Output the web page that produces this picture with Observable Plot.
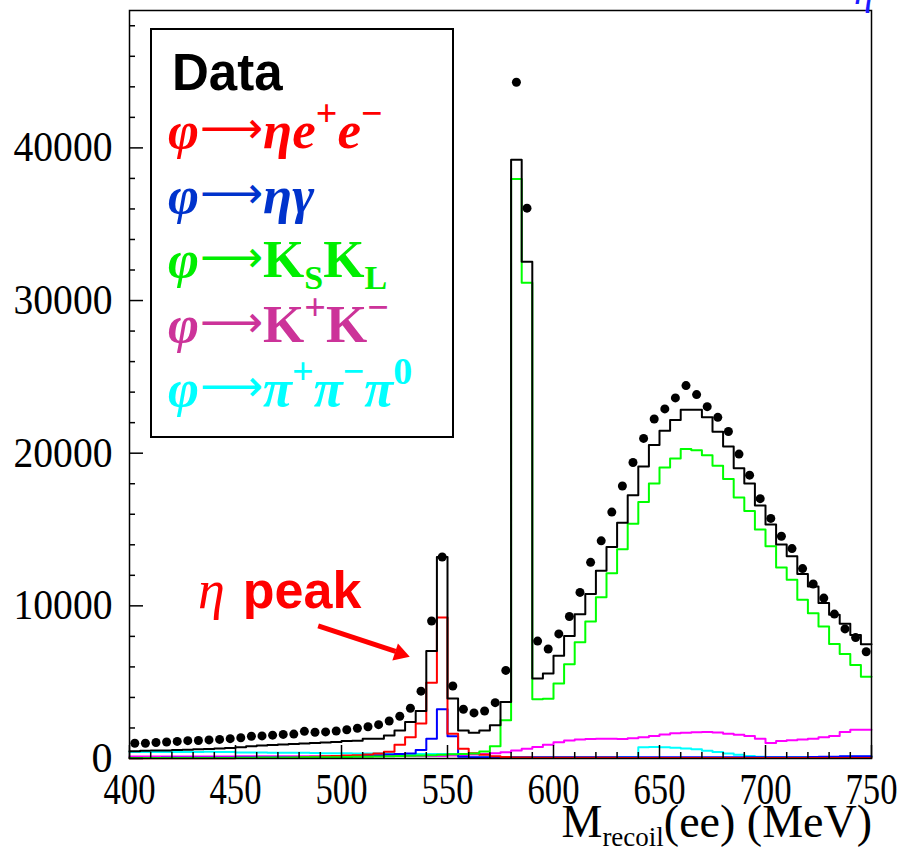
<!DOCTYPE html>
<html><head><meta charset="utf-8">
<script src="https://cdn.jsdelivr.net/npm/d3@7"></script>
<script src="https://cdn.jsdelivr.net/npm/@observablehq/plot@0.6"></script>
<style>
body{margin:0;background:#fff;}
#chart{position:relative;width:912px;height:850px;overflow:hidden;}
</style>
</head><body><div id="chart"></div>
<script>
// ---- data (70 bins of 5 MeV from 400 to 750) ----
const binStart = 400, binWidth = 5, binEnd = 750;
const dataCounts = [1000,1000,1050,1080,1120,1170,1180,1220,1250,1300,
  1360,1460,1480,1530,1580,1600,1780,1720,1740,1800,
  1880,1980,2080,2215,2455,2765,3290,4410,9010,13200,
  4750,3225,2985,3115,3660,5770,44300,36050,7690,7170,
  8160,9300,10880,12850,14260,16140,17850,19390,20970,22240,
  22900,23620,24430,23840,23050,22350,21420,19940,18560,17020,
  15730,14560,13750,12440,11430,10510,9460,8490,7920,6990];
const totalMC = [480,500,520,530,560,580,600,620,660,690,
  740,800,850,880,920,950,980,1020,1050,1080,
  1150,1170,1300,1300,1510,1840,2390,3115,7040,13200,
  3930,1840,1690,1840,2170,3700,39230,32540,5240,5570,
  6730,8030,9450,10780,12300,13850,15440,17240,19130,20530,
  21470,22180,22850,22850,22350,21400,20440,19020,18010,16580,
  15330,14020,13250,12090,11270,10180,9410,8820,8090,7480];
const etaEE = [10,10,10,10,10,15,15,15,20,20,
  25,25,30,30,40,50,100,120,140,160,
  190,220,260,320,450,900,1400,2300,4960,9240,
  1620,640,350,250,150,100,60,60,55,55,
  50,50,50,45,45,45,40,40,40,40,
  40,40,35,35,35,35,35,35,30,30,
  30,30,30,30,30,30,30,30,30,30];
const etaGamma = [40,40,40,45,45,50,50,50,55,55,
  60,60,65,65,70,70,80,80,90,100,
  120,150,180,220,260,300,330,550,1300,3230,
  1450,120,80,80,80,80,80,80,80,80,
  80,80,80,80,80,80,80,80,85,85,
  90,90,90,90,90,90,90,90,90,90,
  90,90,90,90,100,110,120,140,150,150];
const ksKL = [30,30,30,30,30,30,30,30,30,30,
  50,50,60,60,70,70,80,80,90,90,
  100,110,120,130,150,160,180,200,220,250,
  280,300,330,460,800,2500,37960,31160,3880,3920,
  4920,6180,7610,8970,10560,12130,13710,15380,16800,18010,
  19060,19650,20270,20200,19870,19170,18310,17090,16210,15000,
  13900,12520,11710,10400,9520,8640,7500,6840,6120,5350];
const kPlusKMinus = [130,130,130,130,130,130,130,130,130,130,
  150,150,150,150,150,150,150,150,150,150,
  170,170,170,170,170,170,170,170,170,170,
  200,220,260,300,340,415,530,640,750,900,
  1070,1180,1250,1270,1290,1300,1280,1330,1400,1480,
  1580,1650,1690,1720,1730,1700,1620,1560,1470,1300,
  1010,1150,1200,1250,1300,1400,1470,1730,1880,1890];
const threePi = [430,430,430,430,420,420,430,440,430,420,
  400,400,390,380,380,370,370,360,350,350,
  340,330,320,320,310,300,300,300,290,290,
  280,150,90,85,85,80,80,80,80,80,
  80,80,80,80,80,80,80,80,740,760,
  730,700,650,600,500,430,330,240,160,120,
  90,80,80,90,90,100,100,110,110,120];

const xMajorTicks = [400,450,500,550,600,650,700,750];
const xMinorTicks = [410,420,430,440,460,470,480,490,510,520,530,540,560,570,580,590,610,620,630,640,660,670,680,690,710,720,730,740];
const yMajorTicks = [0,10000,20000,30000,40000];
const yMinorTicks = [2000,4000,6000,8000,12000,14000,16000,18000,22000,24000,26000,28000,32000,34000,36000,38000,42000,44000,46000,48000];

const legendTitle = "Data";
const legendColors = ["#ff0000","#0033cc","#00ee00","#cc3399","#00ffff"];
const legendEntries = [
  [["φ","i"],["⟶","a"],["η","i"],["e","i"],["+","sup"],["e","i"],["−","sup"]],
  [["φ","i"],["⟶","a"],["η","i"],["γ","i"]],
  [["φ","i"],["⟶","a"],["K","b"],["S","sub"],["K","b"],["L","sub"]],
  [["φ","i"],["⟶","a"],["K","b"],["+","supb"],["K","b"],["−","supb"]],
  [["φ","i"],["⟶","a"],["π","i"],["+","sup"],["π","i"],["−","sup"],["π","i"],["0","sup"]]
];
const annotationText = ["η", "peak"];
const annotationArrow = [{x1: 489, y1: 8690, x2: 525.5, y2: 7010, xh: 527.6, yh: 6870}];
const xTitle = ["M", "recoil", "(ee) (MeV)"];

// ---- helpers ----
function steps(values) {
  const pts = values.map((v, i) => ({x: binStart + i * binWidth, y: v}));
  pts.push({x: binEnd, y: values[values.length - 1]});
  return pts;
}
const points = dataCounts.map((v, i) => ({x: binStart + (i + 0.5) * binWidth, y: v}));
const series = [
  {vals: threePi, color: "#00ffff"},
  {vals: kPlusKMinus, color: "#ff00ff"},
  {vals: etaGamma, color: "#0000ff"},
  {vals: etaEE, color: "#ff0000"},
  {vals: ksKL, color: "#00ff00"},
  {vals: totalMC, color: "#000000"}
];

const serif = "'Liberation Serif', 'Times New Roman', serif";
const sans = "'Liberation Sans', Arial, sans-serif";
const plot = Plot.plot({
  width: 912, height: 850,
  marginLeft: 129, marginRight: 41, marginTop: 10, marginBottom: 92,
  x: {domain: [400, 750]},
  y: {domain: [0, 49000]},
  style: {background: "#fff", color: "#000"},
  marks: [
    ...series.map(s => Plot.line(steps(s.vals), {x: "x", y: "y", curve: "step-after", stroke: s.color, strokeWidth: 2})),
    Plot.dot(points, {x: "x", y: "y", r: 4.5, fill: "#000", stroke: "none"}),
    Plot.link(annotationArrow, {x1: "x1", y1: "y1", x2: "x2", y2: "y2", stroke: "#ff0000", strokeWidth: 5}),
    Plot.dot(annotationArrow, {x: "xh", y: "yh", symbol: "triangle2", r: 8.5, fill: "#ff0000", rotate: 108.4}),
    Plot.axisX(xMajorTicks, {tickSize: -13, tickPadding: 27, fontSize: 44, fontFamily: serif, label: null, strokeWidth: 1.5}),
    Plot.axisX(xMinorTicks, {tickSize: -6, fill: "none", label: null, strokeWidth: 1.5}),
    Plot.axisY(yMajorTicks, {tickSize: -14, tickPadding: 31, fontSize: 42, fontFamily: serif, label: null, tickFormat: d => String(d), strokeWidth: 1.5}),
    Plot.axisY(yMinorTicks, {tickSize: -6, fill: "none", label: null, strokeWidth: 1.5}),
    Plot.frame({stroke: "#000", strokeWidth: 1.5})
  ]
});
document.getElementById("chart").appendChild(plot);

const svg = d3.select(plot);
svg.style("overflow", "hidden");
svg.selectAll('g[aria-label="x-axis tick label"] text').attr("textLength", 52).attr("lengthAdjust", "spacingAndGlyphs");
svg.selectAll('g[aria-label="y-axis tick label"] text').each(function() {
  const t = d3.select(this).text();
  if (t.length > 1) d3.select(this).attr("textLength", 99).attr("lengthAdjust", "spacingAndGlyphs");
});

// legend
const lg = svg.append("g").attr("text-anchor", "start");
lg.append("rect").attr("x", 151).attr("y", 29).attr("width", 302).attr("height", 408)
  .attr("fill", "#fff").attr("stroke", "#000").attr("stroke-width", 2);
lg.append("text").attr("x", 172).attr("y", 90).attr("font-family", sans)
  .attr("font-weight", "bold").attr("font-size", 51).attr("fill", "#000").text(legendTitle);
legendEntries.forEach((parts, k) => {
  const t = lg.append("text").attr("x", 168).attr("y", 148 + k * 64.5)
    .attr("font-family", serif).attr("font-size", 53).attr("font-weight", "bold").attr("fill", legendColors[k]);
  let shift = 0;
  parts.forEach(([s, st]) => {
    let target = 0, size = 53, italic = true, weight = "bold", fam = serif;
    if (st === "a") { italic = false; weight = "normal"; size = 44; target = -5; fam = "'DejaVu Sans', sans-serif"; }
    if (st === "b") { italic = false; }
    if (st === "sup") { target = -22; size = 38; italic = false; }
    if (st === "supb") { target = -22; size = 38; italic = false; }
    if (st === "sub") { target = 12; size = 34; italic = false; }
    const ts = t.append("tspan").attr("dy", target - shift).attr("font-size", size).attr("font-family", fam)
      .attr("font-style", italic ? "italic" : "normal").attr("font-weight", weight).text(s);
    if (st === "a") ts.attr("dx", 1);
    shift = target;
  });
});

// eta peak annotation
const an = svg.append("text").attr("x", 198).attr("y", 608).attr("fill", "#ff0000").attr("text-anchor", "start");
an.append("tspan").attr("font-family", serif).attr("font-style", "italic").attr("font-size", 54).text(annotationText[0]);
an.append("tspan").attr("dx", 18).attr("font-family", sans)
  .attr("font-weight", "bold").attr("font-size", 52).text(annotationText[1]);

// x-axis title
const xt = svg.append("text").attr("x", 872).attr("y", 837).attr("text-anchor", "end")
  .attr("font-family", serif).attr("font-size", 46).attr("fill", "#000");
xt.append("tspan").text(xTitle[0]);
xt.append("tspan").attr("dy", 9).attr("font-size", 27).text(xTitle[1]);
xt.append("tspan").attr("dy", -9).text(xTitle[2]);

// clipped blue glyph at top right
svg.append("text").attr("x", 854).attr("y", 4).attr("text-anchor", "start").attr("font-family", serif).attr("font-style", "italic")
  .attr("font-size", 40).attr("fill", "#1a1aff").text("η");
</script>
</body></html>
